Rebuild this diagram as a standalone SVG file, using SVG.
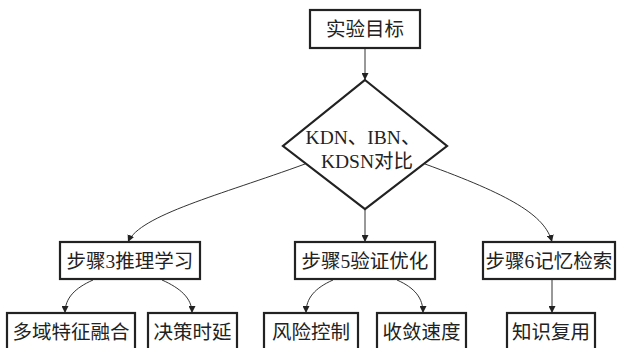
<svg xmlns="http://www.w3.org/2000/svg" width="621" height="348" viewBox="0 0 621 348">
<style>
.box{fill:#fff;stroke:#222;stroke-width:2.2}
.t{font-family:"Liberation Serif","Noto Sans CJK SC",serif;font-size:19.5px;fill:#222;text-anchor:middle;dominant-baseline:central}
.c{fill:none;stroke:#333;stroke-width:1}
</style>
<defs>
<marker id="ah" viewBox="0 0 10 10" refX="10" refY="5" markerWidth="7" markerHeight="7" markerUnits="userSpaceOnUse" orient="auto">
<path d="M0,0 L10,5 L0,10 z" fill="#222"/>
</marker>
</defs>
<rect width="621" height="348" fill="#fff"/>
<g id="connectors">
<path class="c" marker-end="url(#ah)" d="M365,48 L365,80"/>
<path class="c" marker-end="url(#ah)" d="M305,164 C220,195 140,215 128,242"/>
<path class="c" marker-end="url(#ah)" d="M365,209 L365,242"/>
<path class="c" marker-end="url(#ah)" d="M425,164 C510,195 545,215 552,242"/>
<path class="c" marker-end="url(#ah)" d="M93,280 C75,288 65,298 65,313"/>
<path class="c" marker-end="url(#ah)" d="M162,280 C180,288 192,298 192,313"/>
<path class="c" marker-end="url(#ah)" d="M333,280 C315,288 306,298 306,313"/>
<path class="c" marker-end="url(#ah)" d="M397,280 C415,288 423,298 423,313"/>
<path class="c" marker-end="url(#ah)" d="M552,279 L552,313"/>
</g>
<g id="n-goal"><rect class="box" x="310" y="10" width="110" height="38"/><text class="t" x="365" y="29">实验目标</text></g>
<g id="n-compare"><polygon class="box" points="365,80 447,146 365,209 283,146"/><text class="t" x="363" y="137">KDN、IBN、</text><text class="t" x="367" y="161">KDSN对比</text></g>
<g id="n-step3"><rect class="box" x="60" y="242" width="140" height="37"/><text class="t" x="130" y="261">步骤3推理学习</text></g>
<g id="n-step5"><rect class="box" x="295" y="242" width="140" height="37"/><text class="t" x="365" y="261">步骤5验证优化</text></g>
<g id="n-step6"><rect class="box" x="483" y="242" width="132" height="37"/><text class="t" x="549" y="261">步骤6记忆检索</text></g>
<g id="n-fusion"><rect class="box" x="7" y="313" width="128" height="45"/><text class="t" x="71" y="332">多域特征融合</text></g>
<g id="n-delay"><rect class="box" x="148" y="313" width="89" height="45"/><text class="t" x="192.5" y="332">决策时延</text></g>
<g id="n-risk"><rect class="box" x="264" y="313" width="94" height="45"/><text class="t" x="311" y="332">风险控制</text></g>
<g id="n-conv"><rect class="box" x="377" y="313" width="89" height="45"/><text class="t" x="421.5" y="332">收敛速度</text></g>
<g id="n-reuse"><rect class="box" x="507" y="313" width="88" height="45"/><text class="t" x="551" y="332">知识复用</text></g>
</svg>
